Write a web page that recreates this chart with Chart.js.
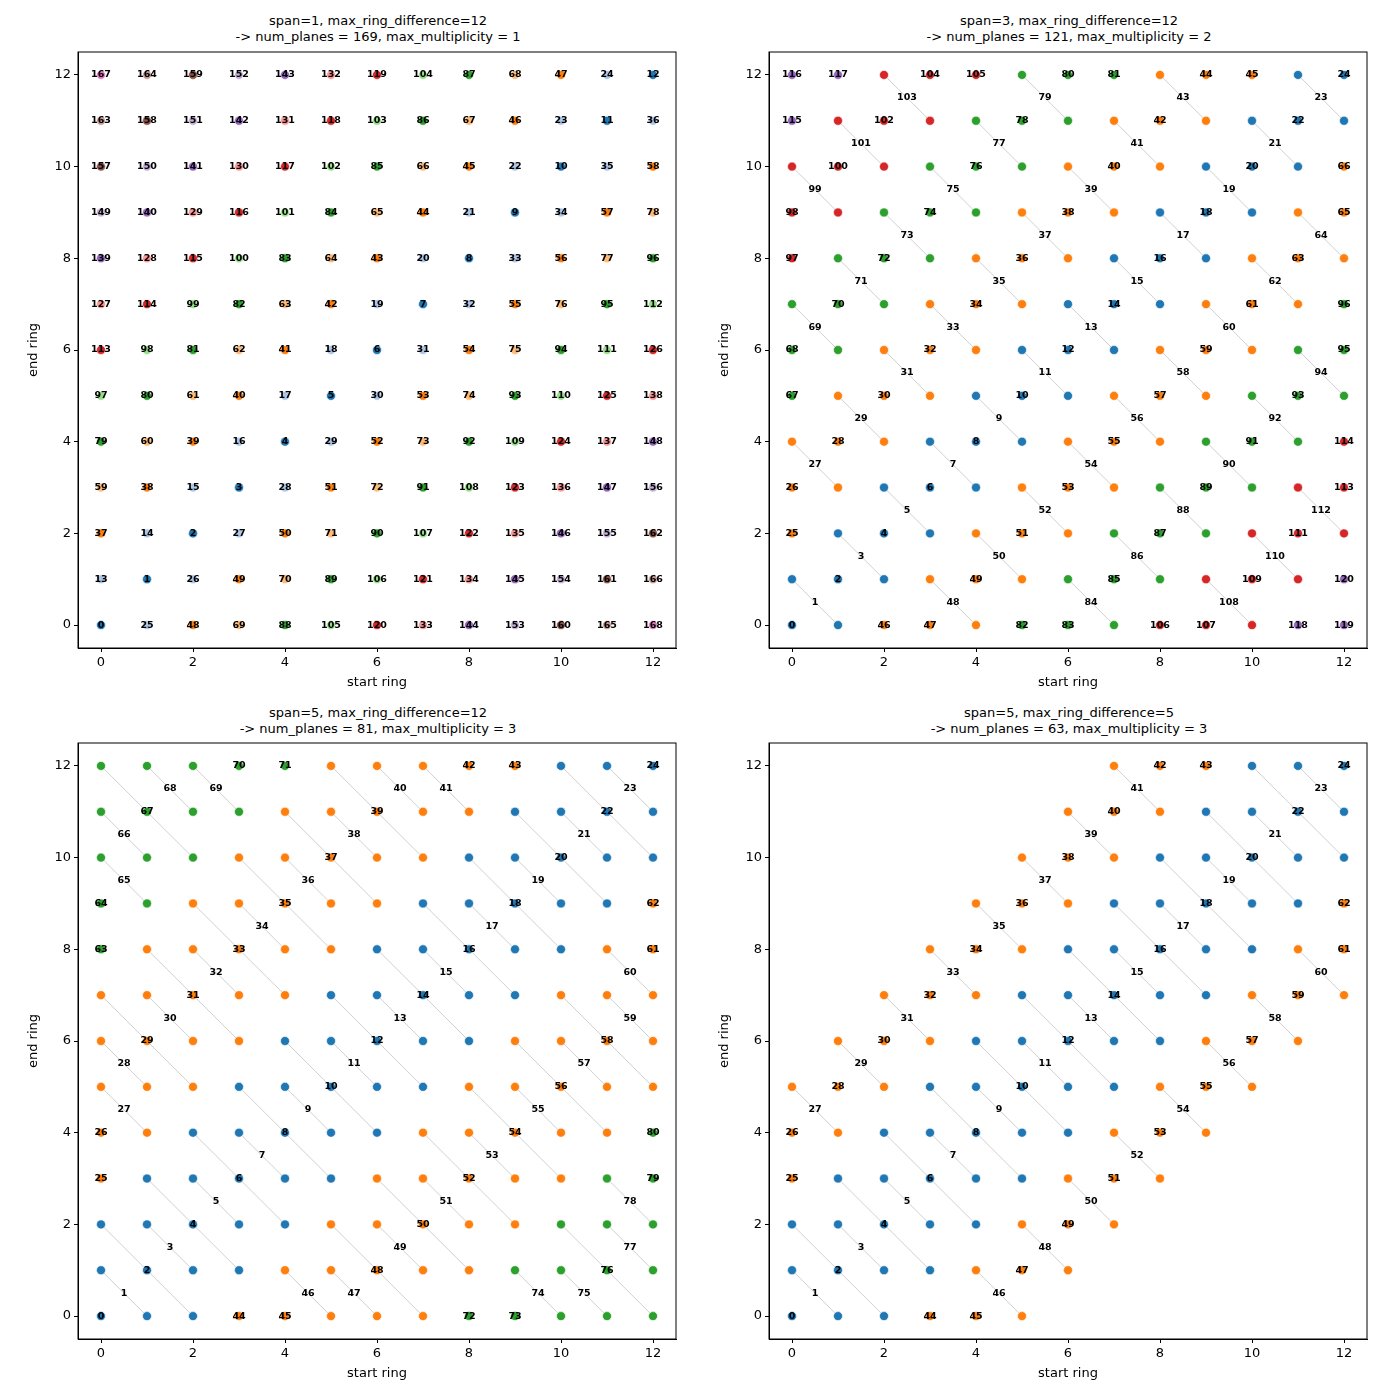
<!DOCTYPE html>
<html><head><meta charset="utf-8">
<script src="https://cdn.jsdelivr.net/npm/chart.js@4"></script>
<style>
body{margin:0;background:#fff;width:1400px;height:1400px;position:relative;font-family:"DejaVu Sans",sans-serif;}
.t{position:absolute;width:600px;text-align:center;font-size:13px;line-height:16px;color:#000;}
.c{position:absolute;width:690px;height:650px;}
</style></head><body>
<div class="t" style="left:78px;top:13px">span=1, max_ring_difference=12<br>-&gt; num_planes = 169, max_multiplicity = 1</div>
<div class="t" style="left:769px;top:13px">span=3, max_ring_difference=12<br>-&gt; num_planes = 121, max_multiplicity = 2</div>
<div class="t" style="left:78px;top:705px">span=5, max_ring_difference=12<br>-&gt; num_planes = 81, max_multiplicity = 3</div>
<div class="t" style="left:769px;top:705px">span=5, max_ring_difference=5<br>-&gt; num_planes = 63, max_multiplicity = 3</div>
<div class="c" style="left:0;top:40px"><canvas id="c0"></canvas></div>
<div class="c" style="left:691px;top:40px"><canvas id="c1"></canvas></div>
<div class="c" style="left:0;top:731px"><canvas id="c2"></canvas></div>
<div class="c" style="left:691px;top:731px"><canvas id="c3"></canvas></div>
<script>
const NUM_RINGS = 13;
const spans = [1, 3, 5, 5];
const maxRingDiffs = [12, 12, 12, 5];
const tickValues = [0, 2, 4, 6, 8, 10, 12];
const tab10 = ['#1f77b4','#ff7f0e','#2ca02c','#d62728','#9467bd','#8c564b','#e377c2','#7f7f7f','#bcbd22','#17becf'];
const tab20 = ['#1f77b4','#aec7e8','#ff7f0e','#ffbb78','#2ca02c','#98df8a','#d62728','#ff9896','#9467bd','#c5b0d5','#8c564b','#c49c94','#e377c2','#f7b6d2'];

function buildPlanes(span, mrd){
  const h = (span-1)/2;
  const segs = [{k:0, lo:-h, hi:h}];
  for(let k=1;;k++){
    const lo = h+1+(k-1)*span; if(lo>mrd) break;
    const hi = Math.min(lo+span-1, mrd);
    segs.push({k:k, lo:lo, hi:hi});
    segs.push({k:k, lo:-hi, hi:-lo});
  }
  const planes=[];
  segs.forEach(s=>{
    for(let sum=0; sum<=2*(NUM_RINGS-1); sum++){
      const pts=[];
      for(let i=0;i<NUM_RINGS;i++){const j=sum-i; if(j<0||j>=NUM_RINGS) continue; const d=j-i; if(d>=s.lo&&d<=s.hi) pts.push({x:i,y:j});}
      if(pts.length) planes.push({seg:s.k, pts:pts});
    }
  });
  return planes;
}

const labelPlugin = {
  id:'labels',
  afterDatasetsDraw(chart){
    const ctx=chart.ctx, xs=chart.scales.x, ys=chart.scales.y;
    ctx.save();
    ctx.font='bold 9.5px "DejaVu Sans"'; ctx.fillStyle='#000'; ctx.textAlign='center'; ctx.textBaseline='middle';
    (chart.options.plugins.labels.planes||[]).forEach((p,idx)=>{
      const mx=p.pts.reduce((a,q)=>a+q.x,0)/p.pts.length, my=p.pts.reduce((a,q)=>a+q.y,0)/p.pts.length;
      ctx.fillText(String(idx), xs.getPixelForValue(mx), ys.getPixelForValue(my));
    });
    ctx.restore();
  }
};

for(let n=0;n<4;n++){
  const planes = buildPlanes(spans[n], maxRingDiffs[n]);
  const pal = n===0 ? tab20 : tab10;
  const datasets=[];
  planes.forEach(p=>{
    if(p.pts.length>1) datasets.push({type:'line', data:p.pts, borderColor:'#bbbbbb', borderWidth:0.7, pointRadius:0, fill:false, order:2});
  });
  datasets.push({type:'scatter', data:planes.flatMap(p=>p.pts), pointRadius:4.5, pointBorderColor:'#fff', pointBorderWidth:0.6,
    pointBackgroundColor:planes.flatMap(p=>p.pts.map(()=>pal[p.seg])), order:0});
  const axis = (title)=>({type:'linear', min:-0.5, max:12.5,
    afterBuildTicks:a=>{a.ticks=tickValues.map(v=>({value:v}));},
    ticks:{color:'#000', font:{size:13, family:'DejaVu Sans'}, padding:3},
    grid:{display:true, drawOnChartArea:false, drawTicks:true, tickLength:4, tickColor:'#000', color:'#000'},
    border:{display:true, color:'#000', width:1},
    title:{display:true, text:title, color:'#000', font:{size:13, family:'DejaVu Sans'}, padding:{top:2,bottom:0}}});
  const xa=axis('start ring'); xa.afterFit=a=>{a.height=42;};
  const ya=axis('end ring'); ya.afterFit=a=>{a.width=54;};
  new Chart(document.getElementById('c'+n), {
    data:{datasets:datasets},
    options:{responsive:true, maintainAspectRatio:false, animation:false, events:[],
      layout:{padding:{left:24, right:14, top:12, bottom:0}},
      scales:{x:xa, y:ya},
      plugins:{legend:{display:false}, tooltip:{enabled:false}, labels:{planes:planes}}},
    plugins:[labelPlugin, {id:'frame', afterDraw(c){const a=c.chartArea,ctx=c.ctx;ctx.save();ctx.strokeStyle='#000';ctx.lineWidth=1;ctx.strokeRect(a.left,a.top,a.right-a.left,a.bottom-a.top);ctx.restore();}}]
  });
}
</script></body></html>
